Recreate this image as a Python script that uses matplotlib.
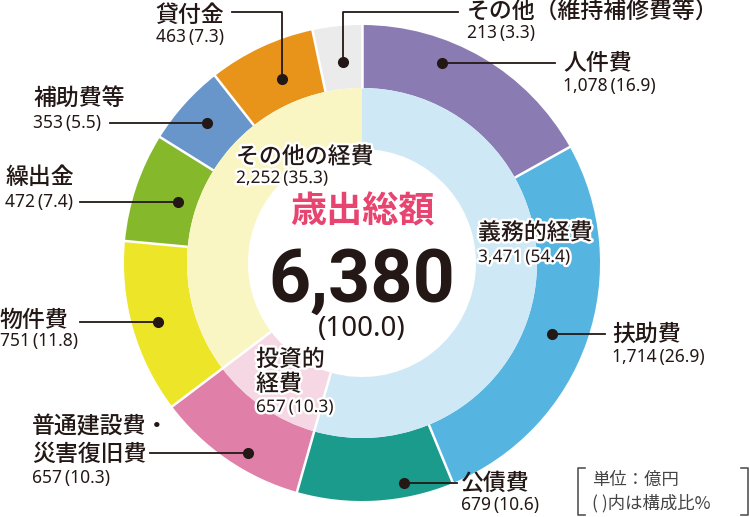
import matplotlib
matplotlib.use('Agg')
import matplotlib.pyplot as plt
import matplotlib.patheffects as pe
from matplotlib import font_manager
import numpy as np

plt.rcParams['font.family'] = ['Noto Sans CJK JP', 'DejaVu Sans']
NUMFONT = ['Noto Sans', 'DejaVu Sans']

##-------------------------------------------------------------
# data (億円)
outer_labels = ['人件費', '扶助費', '公債費', '普通建設費・\n災害復旧費', '物件費',
                '繰出金', '補助費等', '貸付金', 'その他（維持補修費等）']
outer_values = [1078, 1714, 679, 657, 751, 472, 353, 463, 213]
outer_colors = ['#8a7cb3', '#55b5e0', '#1b9b8b', '#e080a9', '#ede528',
                '#86b82c', '#6996ca', '#e8941b', '#ebebeb']

inner_labels = ['義務的経費', '投資的\n経費', 'その他の経費']
inner_values = [3471, 657, 2252]
inner_colors = ['#cfe8f6', '#f6d7e4', '#faf6c4']

total = sum(outer_values)
##-------------------------------------------------------------

W, H = 750, 517
def Y(y):
    return H - y

cx, cy = 362, Y(263)
r_out, r_mid, r_in = 238, 175, 114

fig = plt.figure(figsize=(7.5, 5.17), dpi=100)
ax = fig.add_axes([0, 0, 1, 1])

ax.pie(outer_values, colors=outer_colors, radius=r_out, center=(cx, cy),
       startangle=90, counterclock=False,
       wedgeprops=dict(width=r_out - r_mid, linewidth=0))
ax.pie(inner_values, colors=inner_colors, radius=r_mid, center=(cx, cy),
       startangle=90, counterclock=False,
       wedgeprops=dict(width=r_mid - r_in, linewidth=0))

# white separators
def seps(values, r0, r1, skip_first=False):
    cum = np.cumsum([0] + list(values))[:-1]
    for k, c in enumerate(cum):
        if skip_first and k == 0:
            continue
        a = np.deg2rad(90 - c / total * 360)
        ax.plot([cx + r0*np.cos(a), cx + r1*np.cos(a)],
                [cy + r0*np.sin(a), cy + r1*np.sin(a)],
                color='white', lw=1.8, solid_capstyle='butt')

seps(outer_values, r_mid, r_out + 1)
seps(inner_values, r_in, r_mid, skip_first=True)

ax.set_xlim(0, W)
ax.set_ylim(0, H)
ax.set_aspect('equal')
ax.axis('off')

def num_text(v):
    return '{:,}\u2009({:.1f})'.format(v, v / total * 100)

# leader layout: dot, path, name pos, number pos, ha
layout = [
    dict(path=[(442, 63), (555, 63)], name=(563, 63), num=(563, 86), ha='left'),
    dict(path=[(552, 334), (605, 334)], name=(612, 334), num=(612, 357), ha='left'),
    dict(path=[(404, 483), (457, 483)], name=(461, 483), num=(461, 505), ha='left'),
    dict(path=[(248, 453), (150, 453)], name=(32, 441), num=(32, 478), ha='left'),
    dict(path=[(158, 322), (80, 322)], name=(0, 320), num=(0, 341), ha='left'),
    dict(path=[(178, 202), (80, 202)], name=(5, 178), num=(5, 202), ha='left'),
    dict(path=[(207, 123), (110, 123)], name=(33, 98), num=(33, 123), ha='left'),
    dict(path=[(282, 79), (282, 12), (232, 12)], name=(224, 15), num=(224, 37), ha='right'),
    dict(path=[(343, 62), (343, 12), (458, 12)], name=(467, 12), num=(467, 33), ha='left'),
]

for lab, v, lo in zip(outer_labels, outer_values, layout):
    xs = [p[0] for p in lo['path']]
    ys = [Y(p[1]) for p in lo['path']]
    ax.plot(xs, ys, color='#231815', lw=1.3)
    ax.plot(xs[0], ys[0], 'o', color='#231815', ms=7)
    ax.text(lo['name'][0], Y(lo['name'][1]), lab, ha=lo['ha'], va='center',
            fontsize=16.5, fontweight='medium', color='#231815', linespacing=1.25)
    ax.text(lo['num'][0], Y(lo['num'][1]), num_text(v), ha=lo['ha'], va='center',
            fontsize=12.5, color='#231815', family=NUMFONT)

# inner ring labels
stroke = [pe.withStroke(linewidth=3.5, foreground='white')]
inner_pos = [((478, 233), (478, 257)), ((256, 372), (256, 407)), ((236, 157), (236, 178))]
for lab, v, (p1, p2) in zip(inner_labels, inner_values, inner_pos):
    ax.text(p1[0], Y(p1[1]), lab, ha='left', va='center', fontsize=16.5,
            fontweight='medium', color='#231815', linespacing=1.1, path_effects=stroke)
    ax.text(p2[0], Y(p2[1]), num_text(v), ha='left', va='center', fontsize=12.5,
            color='#231815', family=NUMFONT, path_effects=stroke)

# centre
names = {f.name for f in font_manager.fontManager.ttflist}
if 'Liberation Sans Narrow' in names:
    big_family, big_size = ['Liberation Sans Narrow'], 61
else:
    big_family, big_size = ['Roboto', 'DejaVu Sans'], 53

ax.text(cx, Y(212), '歳出総額', ha='center', va='center', fontsize=26,
        fontweight='bold', color='#e84470')
ax.text(cx, Y(302), '{:,}'.format(total), ha='center', va='baseline',
        fontsize=big_size, fontweight='bold', color='#231815', family=big_family)
ax.text(cx, Y(329), '(100.0)', ha='center', va='center', fontsize=20,
        color='#231815', family=NUMFONT)

# unit box
ax.plot([585, 578, 578, 585], [Y(468), Y(468), Y(515), Y(515)], color='#555555', lw=1.2)
ax.plot([741, 748, 748, 741], [Y(468), Y(468), Y(515), Y(515)], color='#555555', lw=1.2)
ax.text(592, Y(480), '単位：億円', ha='left', va='center', fontsize=12.5, color='#444444')
ax.text(592, Y(503), '( )内は構成比%', ha='left', va='center', fontsize=12.5, color='#444444')

plt.savefig('out.png', dpi=100)
